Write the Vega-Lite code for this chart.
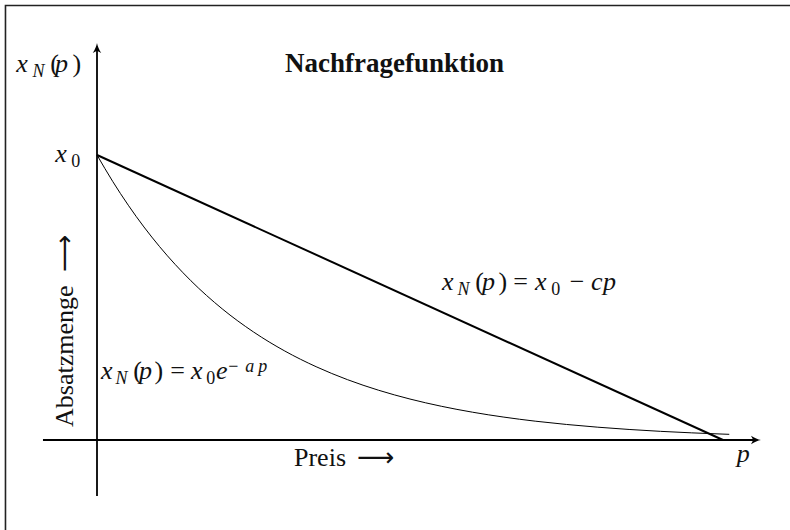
{
  "$schema": "https://vega.github.io/schema/vega-lite/v6.json",
  "width": 790,
  "height": 530,
  "padding": 0,
  "autosize": {"type": "none"},
  "background": "white",
  "config": {"view": {"stroke": null}},
  "datasets": {
    "linear": [{"p": 0, "v": 10}, {"p": 10, "v": 0}],
    "expo": [
      {"p": 0, "v": 10}, {"p": 0.25, "v": 9.076}, {"p": 0.5, "v": 8.237}, {"p": 0.75, "v": 7.475},
      {"p": 1, "v": 6.784}, {"p": 1.5, "v": 5.588}, {"p": 2, "v": 4.602}, {"p": 2.5, "v": 3.791},
      {"p": 3, "v": 3.122}, {"p": 3.5, "v": 2.572}, {"p": 4, "v": 2.118}, {"p": 4.5, "v": 1.745},
      {"p": 5, "v": 1.437}, {"p": 5.5, "v": 1.184}, {"p": 6, "v": 0.975}, {"p": 6.5, "v": 0.803},
      {"p": 7, "v": 0.661}, {"p": 7.5, "v": 0.545}, {"p": 8, "v": 0.449}, {"p": 8.5, "v": 0.37},
      {"p": 9, "v": 0.304}, {"p": 9.5, "v": 0.251}, {"p": 10, "v": 0.207}, {"p": 10.1, "v": 0.199}
    ],
    "axes": [
      {"name": "Absatzmenge", "p": 0, "v": -1.965, "p2": 0, "v2": 13.68},
      {"name": "Preis", "p": -0.863, "v": 0, "p2": 10.51, "v2": 0}
    ],
    "labels": [
      {"t": "x", "role": "it", "p": -1.29, "v": 12.912},
      {"t": "N", "role": "itsub", "p": -1.03, "v": 12.737},
      {"t": "(", "role": "rm", "p": -0.745, "v": 12.912},
      {"t": "p", "role": "it", "p": -0.67, "v": 12.912},
      {"t": ")", "role": "rm", "p": -0.393, "v": 12.912},

      {"t": "x", "role": "it", "p": -0.667, "v": 9.754},
      {"t": "0", "role": "rmsub", "p": -0.41, "v": 9.579},

      {"t": "x", "role": "it", "p": 5.51, "v": 5.263},
      {"t": "N", "role": "itsub", "p": 5.757, "v": 5.088},
      {"t": "(", "role": "rm", "p": 6.044, "v": 5.263},
      {"t": "p", "role": "it", "p": 6.15, "v": 5.263},
      {"t": ")", "role": "rm", "p": 6.412, "v": 5.263},
      {"t": "=", "role": "rm", "p": 6.651, "v": 5.263},
      {"t": "x", "role": "it", "p": 6.997, "v": 5.263},
      {"t": "0", "role": "rmsub", "p": 7.258, "v": 5.088},
      {"t": "−", "role": "rm", "p": 7.55, "v": 5.263},
      {"t": "c", "role": "it", "p": 7.89, "v": 5.263},
      {"t": "p", "role": "it", "p": 8.083, "v": 5.263},

      {"t": "x", "role": "it", "p": 0.064, "v": 2.14},
      {"t": "N", "role": "itsub", "p": 0.294, "v": 1.965},
      {"t": "(", "role": "rm", "p": 0.581, "v": 2.14},
      {"t": "p", "role": "it", "p": 0.671, "v": 2.14},
      {"t": ")", "role": "rm", "p": 0.917, "v": 2.14},
      {"t": "=", "role": "rm", "p": 1.172, "v": 2.14},
      {"t": "x", "role": "it", "p": 1.502, "v": 2.14},
      {"t": "0", "role": "rmsub", "p": 1.747, "v": 1.965},
      {"t": "e", "role": "it", "p": 1.9, "v": 2.14},
      {"t": "−", "role": "rmsub", "p": 2.095, "v": 2.386},
      {"t": "a", "role": "itsub", "p": 2.37, "v": 2.386},
      {"t": "p", "role": "itsub", "p": 2.575, "v": 2.386},

      {"t": "Nachfragefunktion", "role": "bf", "p": 3.003, "v": 12.912},
      {"t": "Preis", "role": "rm", "p": 3.147, "v": -0.912},
      {"t": "⟶", "role": "arrow", "p": 4.153, "v": -0.912},
      {"t": "p", "role": "it", "p": 10.22, "v": -0.772},
      {"t": "Absatzmenge", "role": "rot", "p": -0.383, "v": 0.456},
      {"t": "⟶", "role": "rotarrow", "p": -0.383, "v": 5.895}
    ]
  },
  "encoding": {
    "x": {"field": "p", "type": "quantitative", "axis": null,
          "scale": {"domain": [-1.5495, 11.0703], "nice": false, "zero": false}},
    "y": {"field": "v", "type": "quantitative", "axis": null,
          "scale": {"domain": [-3.1579, 15.4386], "nice": false, "zero": false}}
  },
  "layer": [
    {
      "description": "outer frame",
      "data": {"values": [{"p": -1.462, "v": 15.246, "p2": 13, "v2": -5}]},
      "mark": {"type": "rect", "filled": false, "stroke": "#222222", "strokeWidth": 1.6},
      "encoding": {"x2": {"field": "p2"}, "y2": {"field": "v2"}}
    },
    {
      "data": {"name": "axes"},
      "mark": {"type": "rule", "stroke": "black", "strokeWidth": 1.8},
      "encoding": {"x2": {"field": "p2"}, "y2": {"field": "v2"}}
    },
    {
      "data": {"name": "expo"},
      "mark": {"type": "line", "stroke": "black", "strokeWidth": 1, "interpolate": "monotone"},
      "encoding": {}
    },
    {
      "data": {"name": "linear"},
      "mark": {"type": "line", "stroke": "black", "strokeWidth": 2},
      "encoding": {}
    },
    {
      "description": "arrow head of the quantity axis",
      "data": {"values": [{"p": 0, "v": 13.754}]},
      "mark": {"type": "point", "filled": true, "fill": "black", "stroke": null, "opacity": 1, "size": 100,
               "shape": "M0,-1 C0.1,-0.4 0.4,0.3 0.85,1 L0,0.55 L-0.85,1 C-0.4,0.3 -0.1,-0.4 0,-1 Z"}
    },
    {
      "description": "arrow head of the price axis",
      "data": {"values": [{"p": 10.527, "v": 0}]},
      "mark": {"type": "point", "filled": true, "fill": "black", "stroke": null, "opacity": 1, "size": 100, "angle": 90,
               "shape": "M0,-1 C0.1,-0.4 0.4,0.3 0.85,1 L0,0.55 L-0.85,1 C-0.4,0.3 -0.1,-0.4 0,-1 Z"}
    },
    {
      "data": {"name": "labels"},
      "transform": [{"filter": "datum.role === 'it'"}],
      "mark": {"type": "text", "align": "left", "baseline": "alphabetic", "font": "Liberation Serif",
               "fontStyle": "italic", "fontSize": 26, "fill": "#111111"},
      "encoding": {"text": {"field": "t"}}
    },
    {
      "data": {"name": "labels"},
      "transform": [{"filter": "datum.role === 'itsub'"}],
      "mark": {"type": "text", "align": "left", "baseline": "alphabetic", "font": "Liberation Serif",
               "fontStyle": "italic", "fontSize": 18, "fill": "#111111"},
      "encoding": {"text": {"field": "t"}}
    },
    {
      "data": {"name": "labels"},
      "transform": [{"filter": "datum.role === 'rm'"}],
      "mark": {"type": "text", "align": "left", "baseline": "alphabetic", "font": "Liberation Serif",
               "fontSize": 26, "fill": "#111111"},
      "encoding": {"text": {"field": "t"}}
    },
    {
      "data": {"name": "labels"},
      "transform": [{"filter": "datum.role === 'rmsub'"}],
      "mark": {"type": "text", "align": "left", "baseline": "alphabetic", "font": "Liberation Serif",
               "fontSize": 18, "fill": "#111111"},
      "encoding": {"text": {"field": "t"}}
    },
    {
      "data": {"name": "labels"},
      "transform": [{"filter": "datum.role === 'bf'"}],
      "mark": {"type": "text", "align": "left", "baseline": "alphabetic", "font": "Liberation Serif",
               "fontWeight": "bold", "fontSize": 27, "fill": "#111111"},
      "encoding": {"text": {"field": "t"}}
    },
    {
      "data": {"name": "labels"},
      "transform": [{"filter": "datum.role === 'arrow'"}],
      "mark": {"type": "text", "align": "left", "baseline": "alphabetic", "font": "DejaVu Sans",
               "fontSize": 26, "fill": "#111111"},
      "encoding": {"text": {"field": "t"}}
    },
    {
      "data": {"name": "labels"},
      "transform": [{"filter": "datum.role === 'rot'"}],
      "mark": {"type": "text", "align": "left", "baseline": "alphabetic", "font": "Liberation Serif",
               "fontSize": 26, "angle": 270, "fill": "#111111"},
      "encoding": {"text": {"field": "t"}}
    },
    {
      "data": {"name": "labels"},
      "transform": [{"filter": "datum.role === 'rotarrow'"}],
      "mark": {"type": "text", "align": "left", "baseline": "alphabetic", "font": "DejaVu Sans",
               "fontSize": 26, "angle": 270, "fill": "#111111"},
      "encoding": {"text": {"field": "t"}}
    }
  ]
}
